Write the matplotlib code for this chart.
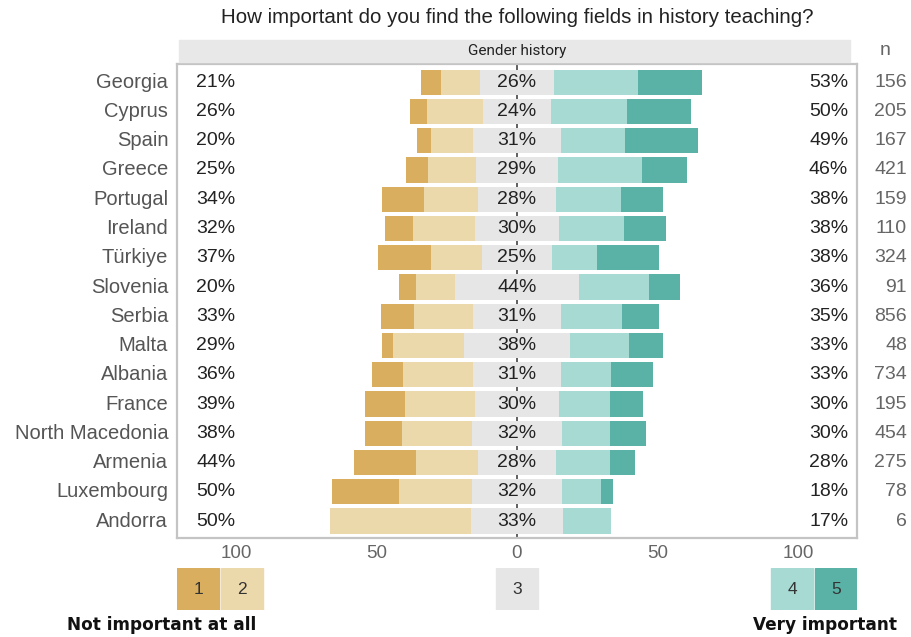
import matplotlib
matplotlib.use("Agg")
import matplotlib.pyplot as plt
from matplotlib.patches import Rectangle

plt.rcParams['font.family'] = ['Liberation Sans', 'DejaVu Sans']

countries = ["Georgia", "Cyprus", "Spain", "Greece", "Portugal", "Ireland", "Türkiye",
             "Slovenia", "Serbia", "Malta", "Albania", "France", "North Macedonia",
             "Armenia", "Luxembourg", "Andorra"]
cat1 = [7, 6, 5, 8, 15, 10, 19, 6, 12, 4, 11, 14, 13, 22, 24, 0]
cat2 = [14, 20, 15, 17, 19, 22, 18, 14, 21, 25, 25, 25, 25, 22, 26, 50]
cat3 = [26, 24, 31, 29, 28, 30, 25, 44, 31, 38, 31, 30, 32, 28, 32, 33]
cat4 = [30, 27, 23, 30, 23, 23, 16, 25, 22, 21, 18, 18, 17, 19, 14, 17]
cat5 = [23, 23, 26, 16, 15, 15, 22, 11, 13, 12, 15, 12, 13, 9, 4, 0]
n_resp = [156, 205, 167, 421, 159, 110, 324, 91, 856, 48, 734, 195, 454, 275, 78, 6]
ticks = [-100, -50, 0, 50, 100]
tick_labels = ["100", "50", "0", "50", "100"]

colors = ["#d9ae5e", "#ecd9ab", "#e6e6e6", "#a7dad2", "#5ab2a6"]
XMAX = 121

fig = plt.figure(figsize=(9.11, 6.37), dpi=100)
ax = fig.add_axes([0.1943, 0.1554, 0.7464, 0.744])

y = list(range(len(countries)))
half = [c / 2 for c in cat3]
left2 = [-h - b for h, b in zip(half, cat2)]
left1 = [l - a for l, a in zip(left2, cat1)]
left5 = [h + d for h, d in zip(half, cat4)]
H = 0.86

ax.axvline(0, color="#444444", lw=1.2, zorder=0)
ax.barh(y, cat1, left=left1, height=H, color=colors[0], zorder=2)
ax.barh(y, cat2, left=left2, height=H, color=colors[1], zorder=2)
ax.barh(y, cat3, left=[-h for h in half], height=H, color=colors[2], zorder=2)
ax.barh(y, cat4, left=half, height=H, color=colors[3], zorder=2)
ax.barh(y, cat5, left=left5, height=H, color=colors[4], zorder=2)

tr = ax.get_yaxis_transform()
for i in y:
    lo = cat1[i] + cat2[i]
    hi = cat4[i] + cat5[i]
    ax.text(-0.013, i, countries[i], transform=tr, ha="right", va="center",
            fontsize=14.5, color="#555555")
    ax.text(0.028, i, f"{lo}%", transform=tr, ha="left", va="center",
            fontsize=14, color="#222222")
    ax.text(0, i, f"{cat3[i]}%", ha="center", va="center", fontsize=14,
            color="#222222", zorder=3)
    ax.text(0.987, i, f"{hi}%", transform=tr, ha="right", va="center",
            fontsize=14, color="#222222")
    ax.text(1.0735, i, str(n_resp[i]), transform=tr, ha="right", va="center",
            fontsize=14, color="#666666")

ax.set_xlim(-XMAX, XMAX)
ax.set_ylim(len(countries) - 0.42, -0.62)
ax.set_xticks(ticks)
ax.set_xticklabels(tick_labels, fontsize=13.5, color="#666666")
ax.set_yticks([])
ax.tick_params(axis="x", length=0, pad=5)
for s in ax.spines.values():
    s.set_color("#c4c4c4")
    s.set_linewidth(1.6)

# facet strip and headers
fig.patches.append(Rectangle((0.1965, 0.9027), 0.737, 0.034, transform=fig.transFigure,
                             color="#e8e8e8", zorder=0))
fig.text(0.5675, 0.920, "Gender history", ha="center", va="center", fontsize=11,
         family="Roboto", color="#222222")
fig.text(0.9715, 0.920, "n", ha="center", va="center", fontsize=14, color="#666666")
fig.text(0.5675, 0.972, "How important do you find the following fields in history teaching?",
         ha="center", va="center", fontsize=14.8, color="#222222")

# legend keys
lg = fig.add_axes([0.1943, 0.0424, 0.7464, 0.0657])
lg.set_xlim(-XMAX, XMAX)
lg.set_ylim(0, 1)
lg.axis("off")
w = 15
key_x = [-XMAX, -XMAX + w + 0.6, -w / 2, XMAX - 2 * w - 0.6, XMAX - w]
for k, (kx, c) in enumerate(zip(key_x, colors)):
    lg.add_patch(Rectangle((kx, 0), w, 1, color=c))
    lg.text(kx + w / 2, 0.5, str(k + 1), ha="center", va="center", fontsize=12.5,
            color="#333333")
fig.text(0.281, 0.019, "Not important at all", ha="right", va="center", fontsize=12.2,
         fontweight="bold", family="DejaVu Sans", color="#111111")
fig.text(0.985, 0.019, "Very important", ha="right", va="center", fontsize=12.2,
         fontweight="bold", family="DejaVu Sans", color="#111111")

fig.savefig("out.png", dpi=100)
